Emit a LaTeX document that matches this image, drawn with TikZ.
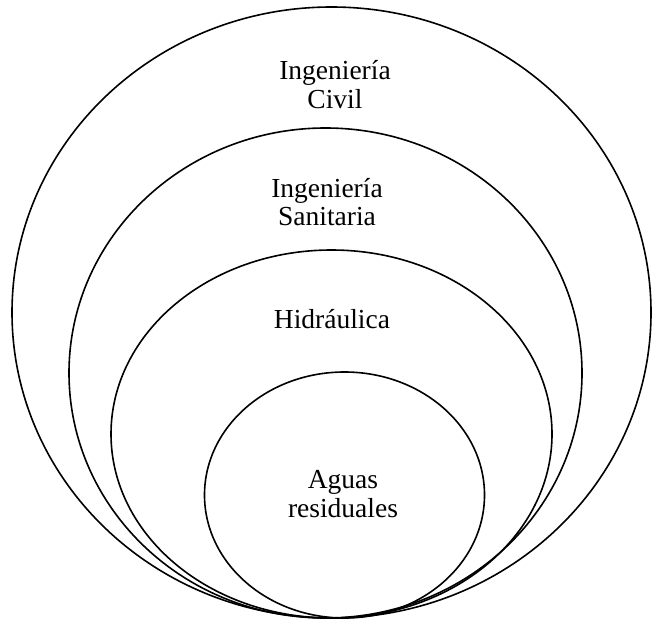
\documentclass[tikz,border=0pt]{standalone}
\usepackage{fontspec}
\setmainfont{Liberation Serif}
\usepackage{tikz}

\tikzset{
  field/.style={draw=black,line width=1.6pt},
  fieldlabel/.style={align=center,anchor=base,inner sep=0pt,
    font=\fontsize{27.5}{28.3}\selectfont}
}

\begin{document}
\begin{tikzpicture}[x=1pt,y=-1pt]
		\useasboundingbox (0,0) rectangle (652,620);
		\foreach \cx/\cy/\rx/\ry in {331.5/312.5/319.5/305.5,325.5/373/256.5/245,331.5/434/220.5/184,344.5/495/140/123} % edit here for the ellipses
		\draw[field] (\cx,\cy) ellipse [x radius=\rx pt,y radius=\ry pt];
		% base is the last line
		\node[fieldlabel] (civil) at (335,108.3) {Ingeniería\\Civil};
		\node[fieldlabel] (sanitaria) at (327,225.5) {Ingeniería\\Sanitaria};
		\node[fieldlabel] (hidraulica) at (332,328) {Hidráulica};
		\node[fieldlabel] (aguas) at (343,517) {Aguas\\residuales};
		\end{tikzpicture}
\end{document}
